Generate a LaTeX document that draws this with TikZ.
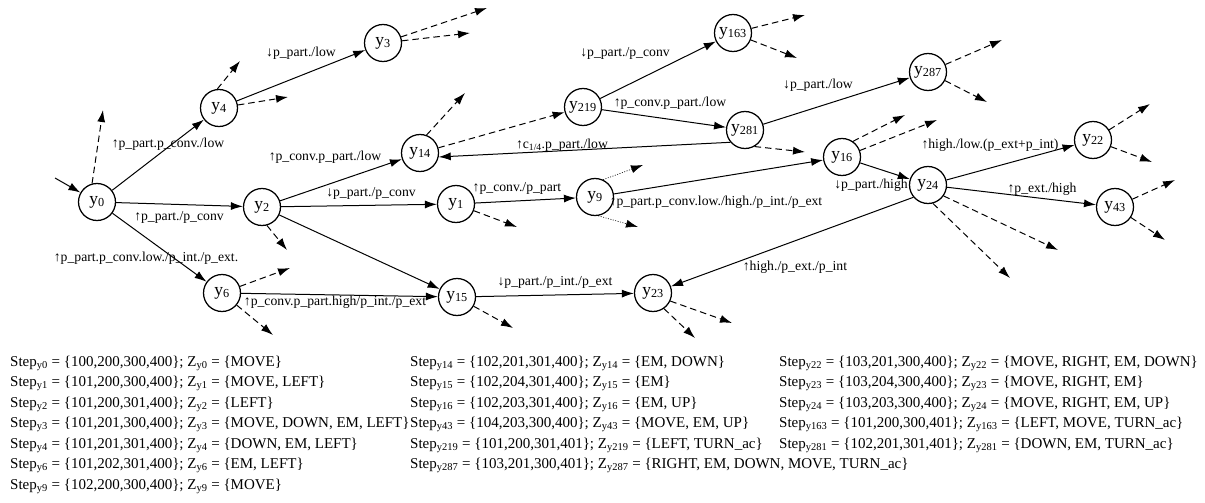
\documentclass[tikz,border=0pt]{standalone}
\usepackage{fontspec}
\setmainfont{Liberation Serif}
\usetikzlibrary{arrows.meta}

% one line of the state table below the graph
\newcommand{\stateline}[3]{Step\textsubscript{#1} = \{#2\}; Z\textsubscript{#1} = \{#3\}}

\tikzset{
  st/.style={circle, draw, line width=1.25pt, minimum size=37pt, inner sep=0pt,
             font=\fontsize{17.5}{17.5}\selectfont},
  tr/.style={-{Latex[length=12pt,width=8pt]}, line width=1pt},
  stub/.style={tr, dash pattern=on 6.5pt off 4pt},
  dotstub/.style={-{Latex[length=12pt,width=8pt]}, line width=0.6pt, dash pattern=on 1pt off 1.5pt},
  lbl/.style={font=\fontsize{13.7}{14}\selectfont, inner sep=0pt},
  info/.style={anchor=base west, inner sep=0pt, font=\fontsize{15}{17}\selectfont},
}

\begin{document}
\begin{tikzpicture}[x=1pt, y=-1pt]
\useasboundingbox (0,0) rectangle (1205,503);

% states
\node[st] (y0)   at (97,202)  {y\textsubscript{0}};
\node[st] (y4)   at (219,108) {y\textsubscript{4}};
\node[st] (y3)   at (383,43)  {y\textsubscript{3}};
\node[st] (y2)   at (262,207) {y\textsubscript{2}};
\node[st] (y6)   at (222,293) {y\textsubscript{6}};
\node[st] (y14)  at (420,153) {y\textsubscript{14}};
\node[st] (y1)   at (456,204) {y\textsubscript{1}};
\node[st] (y9)   at (595,197) {y\textsubscript{9}};
\node[st] (y15)  at (457,297) {y\textsubscript{15}};
\node[st] (y23)  at (653,293) {y\textsubscript{23}};
\node[st] (y219) at (583,107) {y\textsubscript{219}};
\node[st] (y163) at (733,33)  {y\textsubscript{163}};
\node[st] (y281) at (745,130) {y\textsubscript{281}};
\node[st] (y287) at (928,72)  {y\textsubscript{287}};
\node[st] (y16)  at (842,157) {y\textsubscript{16}};
\node[st] (y24)  at (928,185) {y\textsubscript{24}};
\node[st] (y22)  at (1093,140) {y\textsubscript{22}};
\node[st] (y43)  at (1115,207) {y\textsubscript{43}};

% free ends of the open branches
\coordinate (in0) at (55,178);
\coordinate (o0)   at (103,110);
\coordinate (o4a)  at (240,61);
\coordinate (o4b)  at (288,97);
\coordinate (o3a)  at (487,8);
\coordinate (o3b)  at (470,33);
\coordinate (o2)   at (287,250);
\coordinate (o6a)  at (290,268);
\coordinate (o6b)  at (273,335);
\coordinate (o14)  at (465,93);
\coordinate (o1)   at (517,227);
\coordinate (o9a)  at (643,165);
\coordinate (o9b)  at (638,227);
\coordinate (o163a) at (805,15);
\coordinate (o163b) at (797,58);
\coordinate (o281) at (805,152);
\coordinate (o287a) at (1002,40);
\coordinate (o287b) at (987,102);
\coordinate (o16a) at (905,115);
\coordinate (o16b) at (937,120);
\coordinate (o22a) at (1150,104);
\coordinate (o22b) at (1152,162);
\coordinate (o43a) at (1175,180);
\coordinate (o43b) at (1165,240);
\coordinate (o24a) at (1058,250);
\coordinate (o24b) at (1010,278);
\coordinate (o15)  at (513,328);
\coordinate (o23a) at (732,323);
\coordinate (o23b) at (695,338);

% transitions
\draw[tr] (in0) -- (y0);
\draw[tr] (y0) -- (y4);
\draw[tr] (y4) -- (y3);
\draw[tr] (y0) -- (y2);
\draw[tr] (y0) -- (y6);
\draw[tr] (y2) -- (y14);
\draw[tr] (y2) -- (y1);
\draw[tr] (y2) -- (y15);
\draw[tr] (y6) -- (y15);
\draw[tr] (y1) -- (y9);
\draw[tr] (y9) -- (y16);
\draw[stub] (y14) -- (y219);
\draw[tr] (y219) -- (y163);
\draw[tr] (y219) -- (y281);
\draw[tr] (y281.220) -- (y14.-12);
\draw[tr] (y281) -- (y287);
\draw[tr] (y16) -- (y24);
\draw[tr] (y24) -- (y22);
\draw[tr] (y24) -- (y43);
\draw[tr] (y24.-140) -- (y23);
\draw[tr] (y15) -- (y23);

% open branches
\draw[stub] (y0.105) -- (o0);
\draw[stub] (y4.95) -- (o4a);
\draw[stub] (y4) -- (o4b);
\draw[stub] (y3) -- (o3a);
\draw[stub] (y3) -- (o3b);
\draw[stub] (y2.-75) -- (o2);
\draw[stub] (y6) -- (o6a);
\draw[stub] (y6) -- (o6b);
\draw[stub] (y14.70) -- (o14);
\draw[stub] (y1) -- (o1);
\draw[dotstub] (y9.65) -- (o9a);
\draw[dotstub] (y9.-80) -- (o9b);
\draw[stub] (y163) -- (o163a);
\draw[stub] (y163) -- (o163b);
\draw[stub] (y281.-60) -- (o281);
\draw[stub] (y287) -- (o287a);
\draw[stub] (y287) -- (o287b);
\draw[stub] (y16.55) -- (o16a);
\draw[stub] (y16.20) -- (o16b);
\draw[stub] (y22) -- (o22a);
\draw[stub] (y22) -- (o22b);
\draw[stub] (y43) -- (o43a);
\draw[stub] (y43) -- (o43b);
\draw[stub] (y24.-35) -- (o24a);
\draw[stub] (y24.-75) -- (o24b);
\draw[stub] (y15) -- (o15);
\draw[stub] (y23.-25) -- (o23a);
\draw[stub] (y23.-55) -- (o23b);

% transition labels
\node[lbl] (l04)  at (168,144) {↑p\_part.p\_conv./low};
\node[lbl] (l43)  at (301,53)  {↓p\_part./low};
\node[lbl] (l02)  at (179,217) {↑p\_part./p\_conv};
\node[lbl] (l06)  at (146,258) {↑p\_part.p\_conv.low./p\_int./p\_ext.};
\node[lbl] (l214) at (325,157) {↑p\_conv.p\_part./low};
\node[lbl] (l21)  at (371,193) {↓p\_part./p\_conv};
\node[lbl] (l615) at (335,302) {↑p\_conv.p\_part.high/p\_int./p\_ext};
\node[lbl] (l19)  at (517,188) {↑p\_conv./p\_part};
\node[lbl] (l916) at (716,202) {↑p\_part.p\_conv.low./high./p\_int./p\_ext};
\node[lbl] (l219a) at (625,53) {↓p\_part./p\_conv};
\node[lbl] (l219b) at (670,103) {↑p\_conv.p\_part./low};
\node[lbl] (l281a) at (562,145) {↑c\textsubscript{1/4}.p\_part./low};
\node[lbl] (l281b) at (818,85)  {↓p\_part./low};
\node[lbl] (l1624) at (871,185) {↓p\_part./high};
\node[lbl] (l2422) at (990,145) {↑high./low.(p\_ext+p\_int)};
\node[lbl] (l2443) at (1042,189) {↑p\_ext./high};
\node[lbl] (l2423) at (795,267) {↑high./p\_ext./p\_int};
\node[lbl] (l1523) at (555,282) {↓p\_part./p\_int./p\_ext};

% state table
\node[info] (a1) at (10,366)   {\stateline{y0}{100,200,300,400}{MOVE}};
\node[info] (a2) at (10,386.5) {\stateline{y1}{101,200,300,400}{MOVE, LEFT}};
\node[info] (a3) at (10,407)   {\stateline{y2}{101,200,301,400}{LEFT}};
\node[info] (a4) at (10,427.5) {\stateline{y3}{101,201,300,400}{MOVE, DOWN, EM, LEFT}};
\node[info] (a5) at (10,448)   {\stateline{y4}{101,201,301,400}{DOWN, EM, LEFT}};
\node[info] (a6) at (10,468.5) {\stateline{y6}{101,202,301,400}{EM, LEFT}};
\node[info] (a7) at (10,489)   {\stateline{y9}{102,200,300,400}{MOVE}};

\node[info] (b1) at (410,366)   {\stateline{y14}{102,201,301,400}{EM, DOWN}};
\node[info] (b2) at (410,386.5) {\stateline{y15}{102,204,301,400}{EM}};
\node[info] (b3) at (410,407)   {\stateline{y16}{102,203,301,400}{EM, UP}};
\node[info] (b4) at (410,427.5) {\stateline{y43}{104,203,300,400}{MOVE, EM, UP}};
\node[info] (b5) at (410,448)   {\stateline{y219}{101,200,301,401}{LEFT, TURN\_ac}};
\node[info] (b6) at (410,468.5) {\stateline{y287}{103,201,300,401}{RIGHT, EM, DOWN, MOVE, TURN\_ac}};

\node[info] (c1) at (779,366)   {\stateline{y22}{103,201,300,400}{MOVE, RIGHT, EM, DOWN}};
\node[info] (c2) at (779,386.5) {\stateline{y23}{103,204,300,400}{MOVE, RIGHT, EM}};
\node[info] (c3) at (779,407)   {\stateline{y24}{103,203,300,400}{MOVE, RIGHT, EM, UP}};
\node[info] (c4) at (779,427.5) {\stateline{y163}{101,200,300,401}{LEFT, MOVE, TURN\_ac}};
\node[info] (c5) at (779,448)   {\stateline{y281}{102,201,301,401}{DOWN, EM, TURN\_ac}};
\end{tikzpicture}
\end{document}
